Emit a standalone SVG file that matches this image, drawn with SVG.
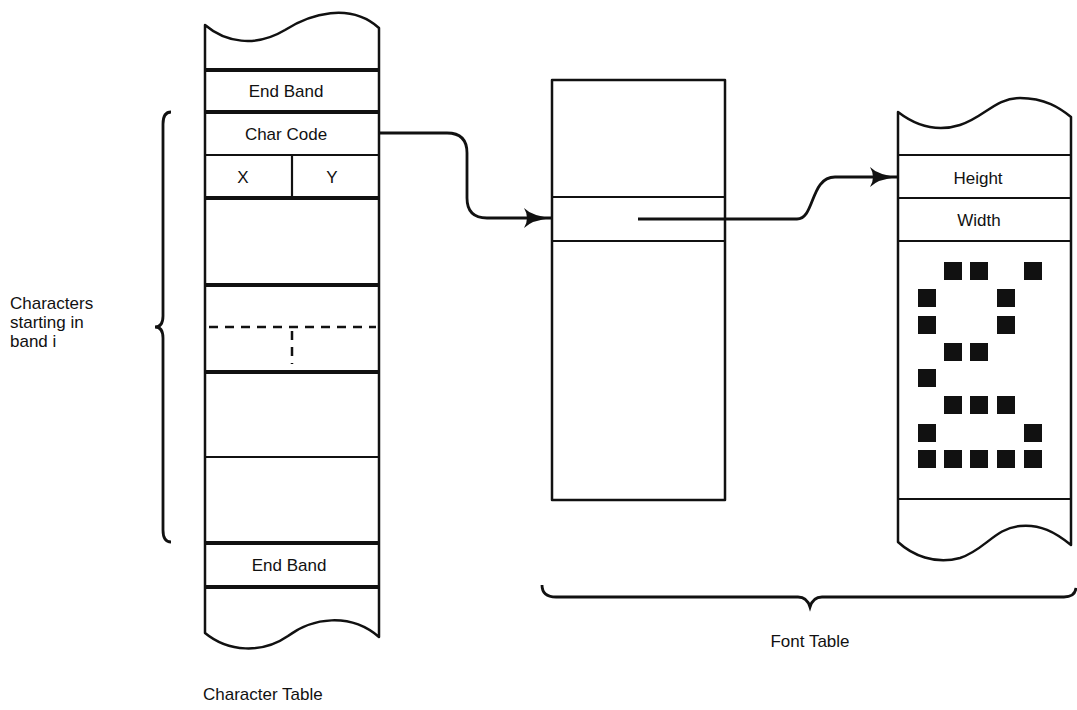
<svg xmlns="http://www.w3.org/2000/svg" width="1077" height="710" viewBox="0 0 1077 710">
<style>
.o{fill:none;stroke:#111;stroke-width:2.5;stroke-linejoin:round}
.t{stroke:#111;stroke-width:2.2}
.k{stroke:#111;stroke-width:4}
.d{stroke:#111;stroke-width:2.5;stroke-dasharray:9,7}
.c{fill:none;stroke:#111;stroke-width:2.8}
text{font-family:"Liberation Sans",Arial,sans-serif;font-size:17px;fill:#111}
.m{text-anchor:middle}
.px{fill:#111}
</style>
<defs>
<marker id="ah" viewBox="0 0 30 20" refX="28" refY="10" markerWidth="30" markerHeight="20" markerUnits="userSpaceOnUse" orient="auto">
<path d="M0,0 Q8,8 28,10 Q8,12 0,20 Q6,10 0,0 Z" fill="#111"/>
</marker>
</defs>
<rect width="1077" height="710" fill="#fff"/>
<g id="character-table">
<path class="o" d="M205,25 C225,42 255,48 285,30 C310,14 350,2 379,28 V637 C350,612 312,618 288,636 C262,654 228,652 205,633 Z"/>
<line class="k" x1="205" y1="70" x2="379" y2="70"/>
<line class="k" x1="205" y1="112" x2="379" y2="112"/>
<line class="t" x1="205" y1="155" x2="379" y2="155"/>
<line class="k" x1="205" y1="198" x2="379" y2="198"/>
<line class="k" x1="205" y1="285" x2="379" y2="285"/>
<line class="k" x1="205" y1="372" x2="379" y2="372"/>
<line class="t" x1="205" y1="457" x2="379" y2="457"/>
<line class="k" x1="205" y1="543" x2="379" y2="543"/>
<line class="k" x1="205" y1="587" x2="379" y2="587"/>
<line class="t" x1="292" y1="155" x2="292" y2="198"/>
<line class="d" x1="209" y1="327" x2="376" y2="327"/>
<line class="d" x1="292" y1="331" x2="292" y2="364"/>
<text class="m" x="286" y="97">End Band</text>
<text class="m" x="286" y="140">Char Code</text>
<text class="m" x="243" y="183">X</text>
<text class="m" x="332" y="183">Y</text>
<text class="m" x="289" y="571">End Band</text>
<text x="203" y="700">Character Table</text>
</g>
<g id="index-table">
<rect class="o" x="552" y="80" width="173" height="420"/>
<line class="t" x1="552" y1="197" x2="725" y2="197"/>
<line class="t" x1="552" y1="241" x2="725" y2="241"/>
</g>
<g id="font-table">
<path class="o" d="M898,112 C915,125 935,133 960,125 C985,117 995,98 1020,98 C1045,98 1060,108 1071,117 V545 C1055,532 1040,524 1020,526 C995,528 985,550 960,558 C935,565 912,555 898,542 Z"/>
<line class="t" x1="898" y1="155" x2="1071" y2="155"/>
<line class="t" x1="898" y1="198" x2="1071" y2="198"/>
<line class="t" x1="898" y1="241" x2="1071" y2="241"/>
<line class="t" x1="898" y1="499" x2="1071" y2="499"/>
<text class="m" x="978" y="184">Height</text>
<text class="m" x="979" y="226">Width</text>
<g id="glyph">
<rect class="px" x="944" y="262" width="18" height="18"/>
<rect class="px" x="970" y="262" width="18" height="18"/>
<rect class="px" x="1024" y="262" width="18" height="18"/>
<rect class="px" x="918" y="289" width="18" height="18"/>
<rect class="px" x="997" y="289" width="18" height="18"/>
<rect class="px" x="918" y="316" width="18" height="18"/>
<rect class="px" x="997" y="316" width="18" height="18"/>
<rect class="px" x="944" y="343" width="18" height="18"/>
<rect class="px" x="970" y="343" width="18" height="18"/>
<rect class="px" x="918" y="369" width="18" height="18"/>
<rect class="px" x="944" y="396" width="18" height="18"/>
<rect class="px" x="970" y="396" width="18" height="18"/>
<rect class="px" x="997" y="396" width="18" height="18"/>
<rect class="px" x="918" y="424" width="18" height="18"/>
<rect class="px" x="1024" y="424" width="18" height="18"/>
<rect class="px" x="918" y="450" width="18" height="18"/>
<rect class="px" x="944" y="450" width="18" height="18"/>
<rect class="px" x="970" y="450" width="18" height="18"/>
<rect class="px" x="997" y="450" width="18" height="18"/>
<rect class="px" x="1024" y="450" width="18" height="18"/>
</g>
</g>
<g id="connectors">
<path class="c" d="M379,133 H447 Q467,133 467,153 V198 Q467,218 487,218 H552" marker-end="url(#ah)"/>
<path class="c" d="M638,219 H797 C815,219 810,177 835,177 H898" marker-end="url(#ah)"/>
</g>
<g id="braces">
<path class="c" d="M171,112 Q163,112 163,124 V316 Q163,327 155,327 Q163,327 163,338 V530 Q163,542 171,542"/>
<path class="c" d="M542,585 Q542,597 556,597 H798 Q807,597 810,607 Q813,597 822,597 H1064 Q1075,597 1076,588"/>
<text x="10" y="309">Characters</text>
<text x="10" y="328">starting in</text>
<text x="10" y="347">band  i</text>
<text class="m" x="810" y="647">Font Table</text>
</g>
</svg>
